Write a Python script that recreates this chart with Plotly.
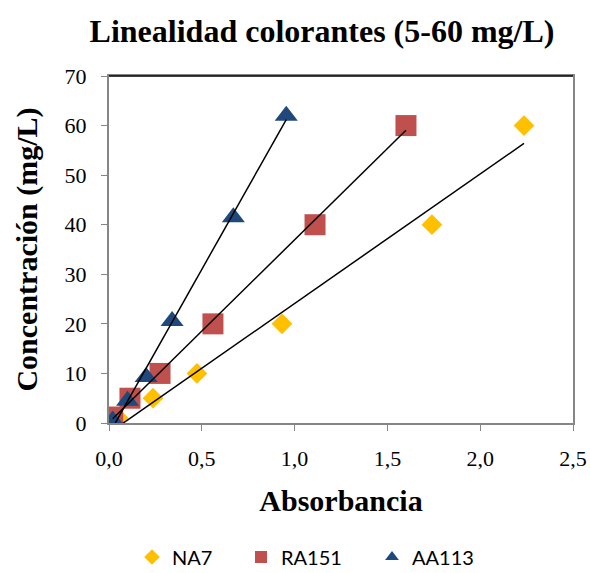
import numpy as np
import plotly.graph_objects as go

# Data
na7_x = [0.05, 0.237, 0.474, 0.932, 1.74, 2.236]
na7_y = [1, 5, 10, 20, 40, 60]
ra151_x = [0.02, 0.113, 0.275, 0.56, 1.11, 1.60]
ra151_y = [1.2, 5, 10, 20, 40, 60]
aa113_x = [0.02, 0.10, 0.20, 0.34, 0.67, 0.955]
aa113_y = [0.5, 4.5, 9.3, 20.6, 41.5, 62]

series_names = ["NA7", "RA151", "AA113"]
x_ticks = [0, 0.5, 1.0, 1.5, 2.0, 2.5]
y_ticks = [0, 10, 20, 30, 40, 50, 60, 70]

colors = ["#FFC000", "#C0504D", "#1F497D"]
symbols = ["diamond", "square", "triangle-up"]
sizes = [16, 21, 20]

fig = go.Figure()
series = [(na7_x, na7_y), (ra151_x, ra151_y), (aa113_x, aa113_y)]
legends = ["legend", "legend2", "legend3"]
for (xs, ys), name, c, s, sz, lg in zip(series, series_names, colors, symbols, sizes, legends):
    fig.add_trace(go.Scatter(x=xs, y=ys, mode="markers", name=name,
                             marker=dict(color=c, symbol=s, size=sz, line=dict(width=0)),
                             legend=lg, cliponaxis=True))

for xs, ys in series:
    a, b = np.polyfit(xs, ys, 1)
    lx = [min(xs), max(xs)]
    fig.add_trace(go.Scatter(x=lx, y=[a * v + b for v in lx], mode="lines",
                             line=dict(color="black", width=1.5), showlegend=False,
                             hoverinfo="skip"))

serif = "Liberation Serif, Times New Roman, serif"
axis_color = "#868686"
fig.update_layout(
    width=590, height=573,
    margin=dict(l=109, r=17, t=76, b=150, autoexpand=False),
    paper_bgcolor="white", plot_bgcolor="white",
    separators=",.",
    title=dict(text="<b>Linealidad colorantes (5-60 mg/L)</b>", x=322 / 590, xanchor="center",
               y=1 - 31 / 573, yanchor="middle",
               font=dict(family=serif, size=32, color="black")),
    xaxis=dict(range=[0, 2.5], tickvals=x_ticks, tickformat=".1f", ticks="outside", ticklen=6,
               tickcolor=axis_color, showline=True, linecolor=axis_color, linewidth=2,
               mirror=True, showgrid=False, zeroline=False, automargin=False,
               ticklabelstandoff=9,
               tickfont=dict(family=serif, size=22, color="black"),
               title=dict(text="<b>Absorbancia</b>", font=dict(family=serif, size=30, color="black"),
                          standoff=20)),
    yaxis=dict(range=[0, 70], tickvals=y_ticks, ticks="outside", ticklen=6,
               tickcolor=axis_color, showline=True, linecolor=axis_color, linewidth=2,
               mirror=True, showgrid=False, zeroline=False, automargin=False,
               ticklabelstandoff=10,
               tickfont=dict(family=serif, size=22, color="black"),
               title=dict(text="<b>Concentración (mg/L)</b>", font=dict(family=serif, size=30, color="black"),
                          standoff=18)),
)
leg_font = dict(family="Lato, Carlito, Calibri, sans-serif", size=20, color="black")
for lg, xpx in zip(legends, [132, 241, 372]):
    fig.update_layout({lg: dict(x=xpx / 590, y=1 - 557 / 573, xref="container", yref="container",
                                xanchor="left", yanchor="middle", orientation="h",
                                font=leg_font, itemsizing="constant", bgcolor="rgba(0,0,0,0)")})

fig.add_shape(type="line", xref="paper", yref="paper", x0=0, x1=1, y0=1, y1=1,
              line=dict(color="black", width=1.5))

fig.write_html("out.html", config={"displayModeBar": False},
               post_script="document.body.style.margin='0px';")
